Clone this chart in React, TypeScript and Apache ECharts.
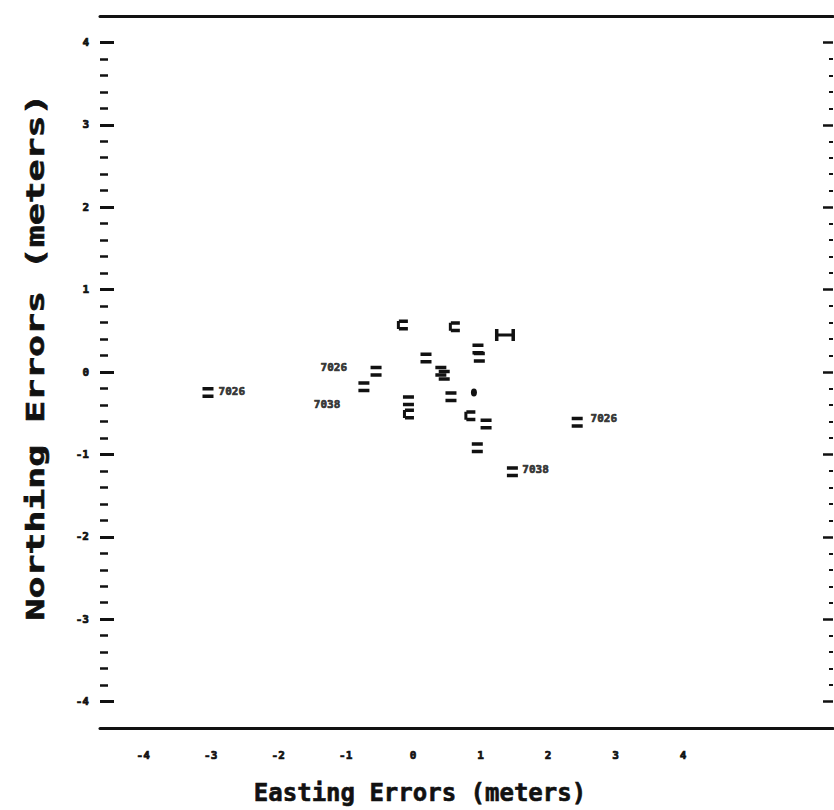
import React, { useEffect, useRef } from "react";
import * as echarts from "echarts";

// Axis tick labels
const xTickValues = [-4, -3, -2, -1, 0, 1, 2, 3, 4];
const yTickValues = [-4, -3, -2, -1, 0, 1, 2, 3, 4];
const yMinorTickValues: number[] = [];
for (let i = -4; i < 4; i++) {
  for (let k = 1; k <= 4; k++) yMinorTickValues.push(+(i + k * 0.2).toFixed(1));
}

// Error markers (Easting, Northing in meters)
const markerEast = [-3.04, -0.55, -0.73, -0.16, -0.07, -0.07, 0.19, 0.41, 0.46, 0.61, 0.56, 0.9, 0.96, 0.98, 1.36, 0.84, 1.08, 0.95, 1.47, 2.43];
const markerNorth = [-0.25, 0.01, -0.18, 0.57, -0.35, -0.51, 0.17, 0.01, -0.04, 0.55, -0.3, -0.25, 0.28, 0.18, 0.45, -0.53, -0.63, -0.92, -1.21, -0.61];
const markerKind = ["eq", "eq", "eq", "c", "eq", "c", "eq", "eq", "eq", "c", "eq", "dot", "eq", "eq", "h", "c", "eq", "eq", "eq", "eq"];

// Station annotations
const labelText = ["7026", "7026", "7038", "7038", "7026"];
const labelEast = [-2.89, -1.38, -1.48, 1.61, 2.62];
const labelNorth = [-0.24, 0.06, -0.39, -1.18, -0.57];

const FONT = '"DejaVu Sans Mono", monospace';
const INK = "#111";

const SYMBOLS: Record<string, { symbol: string; size: number[] }> = {
  eq: { symbol: "path://M0 0H11V3.5H0Z M0 7.5H11V11H0Z", size: [11, 11] },
  c: { symbol: "path://M2 0H11V3.5H2Z M2 7.5H11V11H2Z M0 1.5H3V9.5H0Z", size: [11, 11] },
  h: { symbol: "path://M0 0H3.5V12H0Z M16.5 0H20V12H16.5Z M0 4.5H20V7.5H0Z", size: [20, 12] },
  dot: { symbol: "path://M0 4A3 4 0 1 0 6 4A3 4 0 1 0 0 4Z", size: [6, 8] },
};

export default function App() {
  const ref = useRef<HTMLDivElement>(null);
  useEffect(() => {
    if (!ref.current) return;
    const chart = echarts.init(ref.current, null, { renderer: "svg" });
    const xMin = -4.64, xMax = 6.22, yMin = -4.32, yMax = 4.32;
    const tickLabel = {
      fontFamily: FONT,
      fontSize: 11,
      fontWeight: "bold" as const,
      color: INK,
      textBorderColor: INK,
      textBorderWidth: 0.7,
    };
    const markers = markerEast.map((x, i) => ({
      value: [x, markerNorth[i]],
      symbol: SYMBOLS[markerKind[i]].symbol,
      symbolSize: SYMBOLS[markerKind[i]].size,
    }));
    const labels = labelEast.map((x, i) => ({ value: [x, labelNorth[i]], name: labelText[i] }));
    const yBase = (position: string) => ({
      type: "value",
      position,
      min: yMin,
      max: yMax,
      axisLine: { show: false, onZero: false },
      splitLine: { show: false },
    });
    chart.setOption({
      animation: false,
      backgroundColor: "#fff",
      grid: { left: 100, right: 1, top: 16, bottom: 82, containLabel: false },
      xAxis: [
        {
          type: "value",
          position: "bottom",
          min: xMin,
          max: xMax,
          axisLine: { show: true, onZero: false, lineStyle: { color: INK, width: 3 } },
          axisTick: { show: false },
          splitLine: { show: false },
          axisLabel: {
            ...tickLabel,
            customValues: xTickValues,
            margin: 22,
            formatter: (v: number) => String(Math.round(v)),
          },
        },
        {
          type: "value",
          position: "top",
          min: xMin,
          max: xMax,
          axisLine: { show: true, onZero: false, lineStyle: { color: INK, width: 3 } },
          axisTick: { show: false },
          axisLabel: { show: false },
          splitLine: { show: false },
        },
      ],
      yAxis: [
        {
          ...yBase("left"),
          axisTick: { show: true, inside: true, length: 14, customValues: yTickValues, lineStyle: { color: INK, width: 3 } },
          axisLabel: {
            ...tickLabel,
            customValues: yTickValues,
            margin: 11,
            formatter: (v: number) => String(Math.round(v)),
          },
        },
        {
          ...yBase("left"),
          axisTick: { show: true, inside: true, length: 8, customValues: yMinorTickValues, lineStyle: { color: INK, width: 2.5 } },
          axisLabel: { show: false },
        },
        {
          ...yBase("right"),
          axisTick: { show: true, inside: true, length: 10, customValues: yTickValues, lineStyle: { color: INK, width: 2.5 } },
          axisLabel: { show: false },
        },
        {
          ...yBase("right"),
          axisTick: { show: true, inside: true, length: 4, customValues: yMinorTickValues, lineStyle: { color: INK, width: 2 } },
          axisLabel: { show: false },
        },
      ],
      series: [
        {
          type: "scatter",
          xAxisIndex: 0,
          yAxisIndex: 0,
          data: markers,
          itemStyle: { color: INK, opacity: 1 },
          z: 3,
        },
        {
          type: "scatter",
          xAxisIndex: 0,
          yAxisIndex: 0,
          data: labels,
          symbol: "circle",
          symbolSize: 1,
          itemStyle: { color: "rgba(0,0,0,0)" },
          label: {
            show: true,
            position: "right",
            distance: 0,
            formatter: (p: any) => p.name,
            fontFamily: FONT,
            fontSize: 11,
            fontWeight: "bold",
            color: INK,
            textBorderColor: INK,
            textBorderWidth: 0.7,
          },
          z: 4,
        },
      ],
      graphic: [
        {
          type: "text",
          x: 420,
          y: 793,
          style: {
            text: "Easting Errors (meters)",
            fontFamily: FONT,
            fontSize: 24,
            fontWeight: "bold",
            fill: INK,
            stroke: INK,
            lineWidth: 0.6,
            align: "center",
            verticalAlign: "middle",
          },
        },
        {
          type: "text",
          x: 35,
          y: 357,
          rotation: Math.PI / 2,
          scaleX: 1.52,
          style: {
            text: "Northing Errors (meters)",
            fontFamily: FONT,
            fontSize: 24,
            fontWeight: "bold",
            fill: INK,
            stroke: INK,
            lineWidth: 0.6,
            align: "center",
            verticalAlign: "middle",
          },
        },
      ],
    });
    return () => chart.dispose();
  }, []);
  return (
    <div
      ref={ref}
      style={{ position: "absolute", left: 0, top: 0, width: 834, height: 810 }}
    />
  );
}
